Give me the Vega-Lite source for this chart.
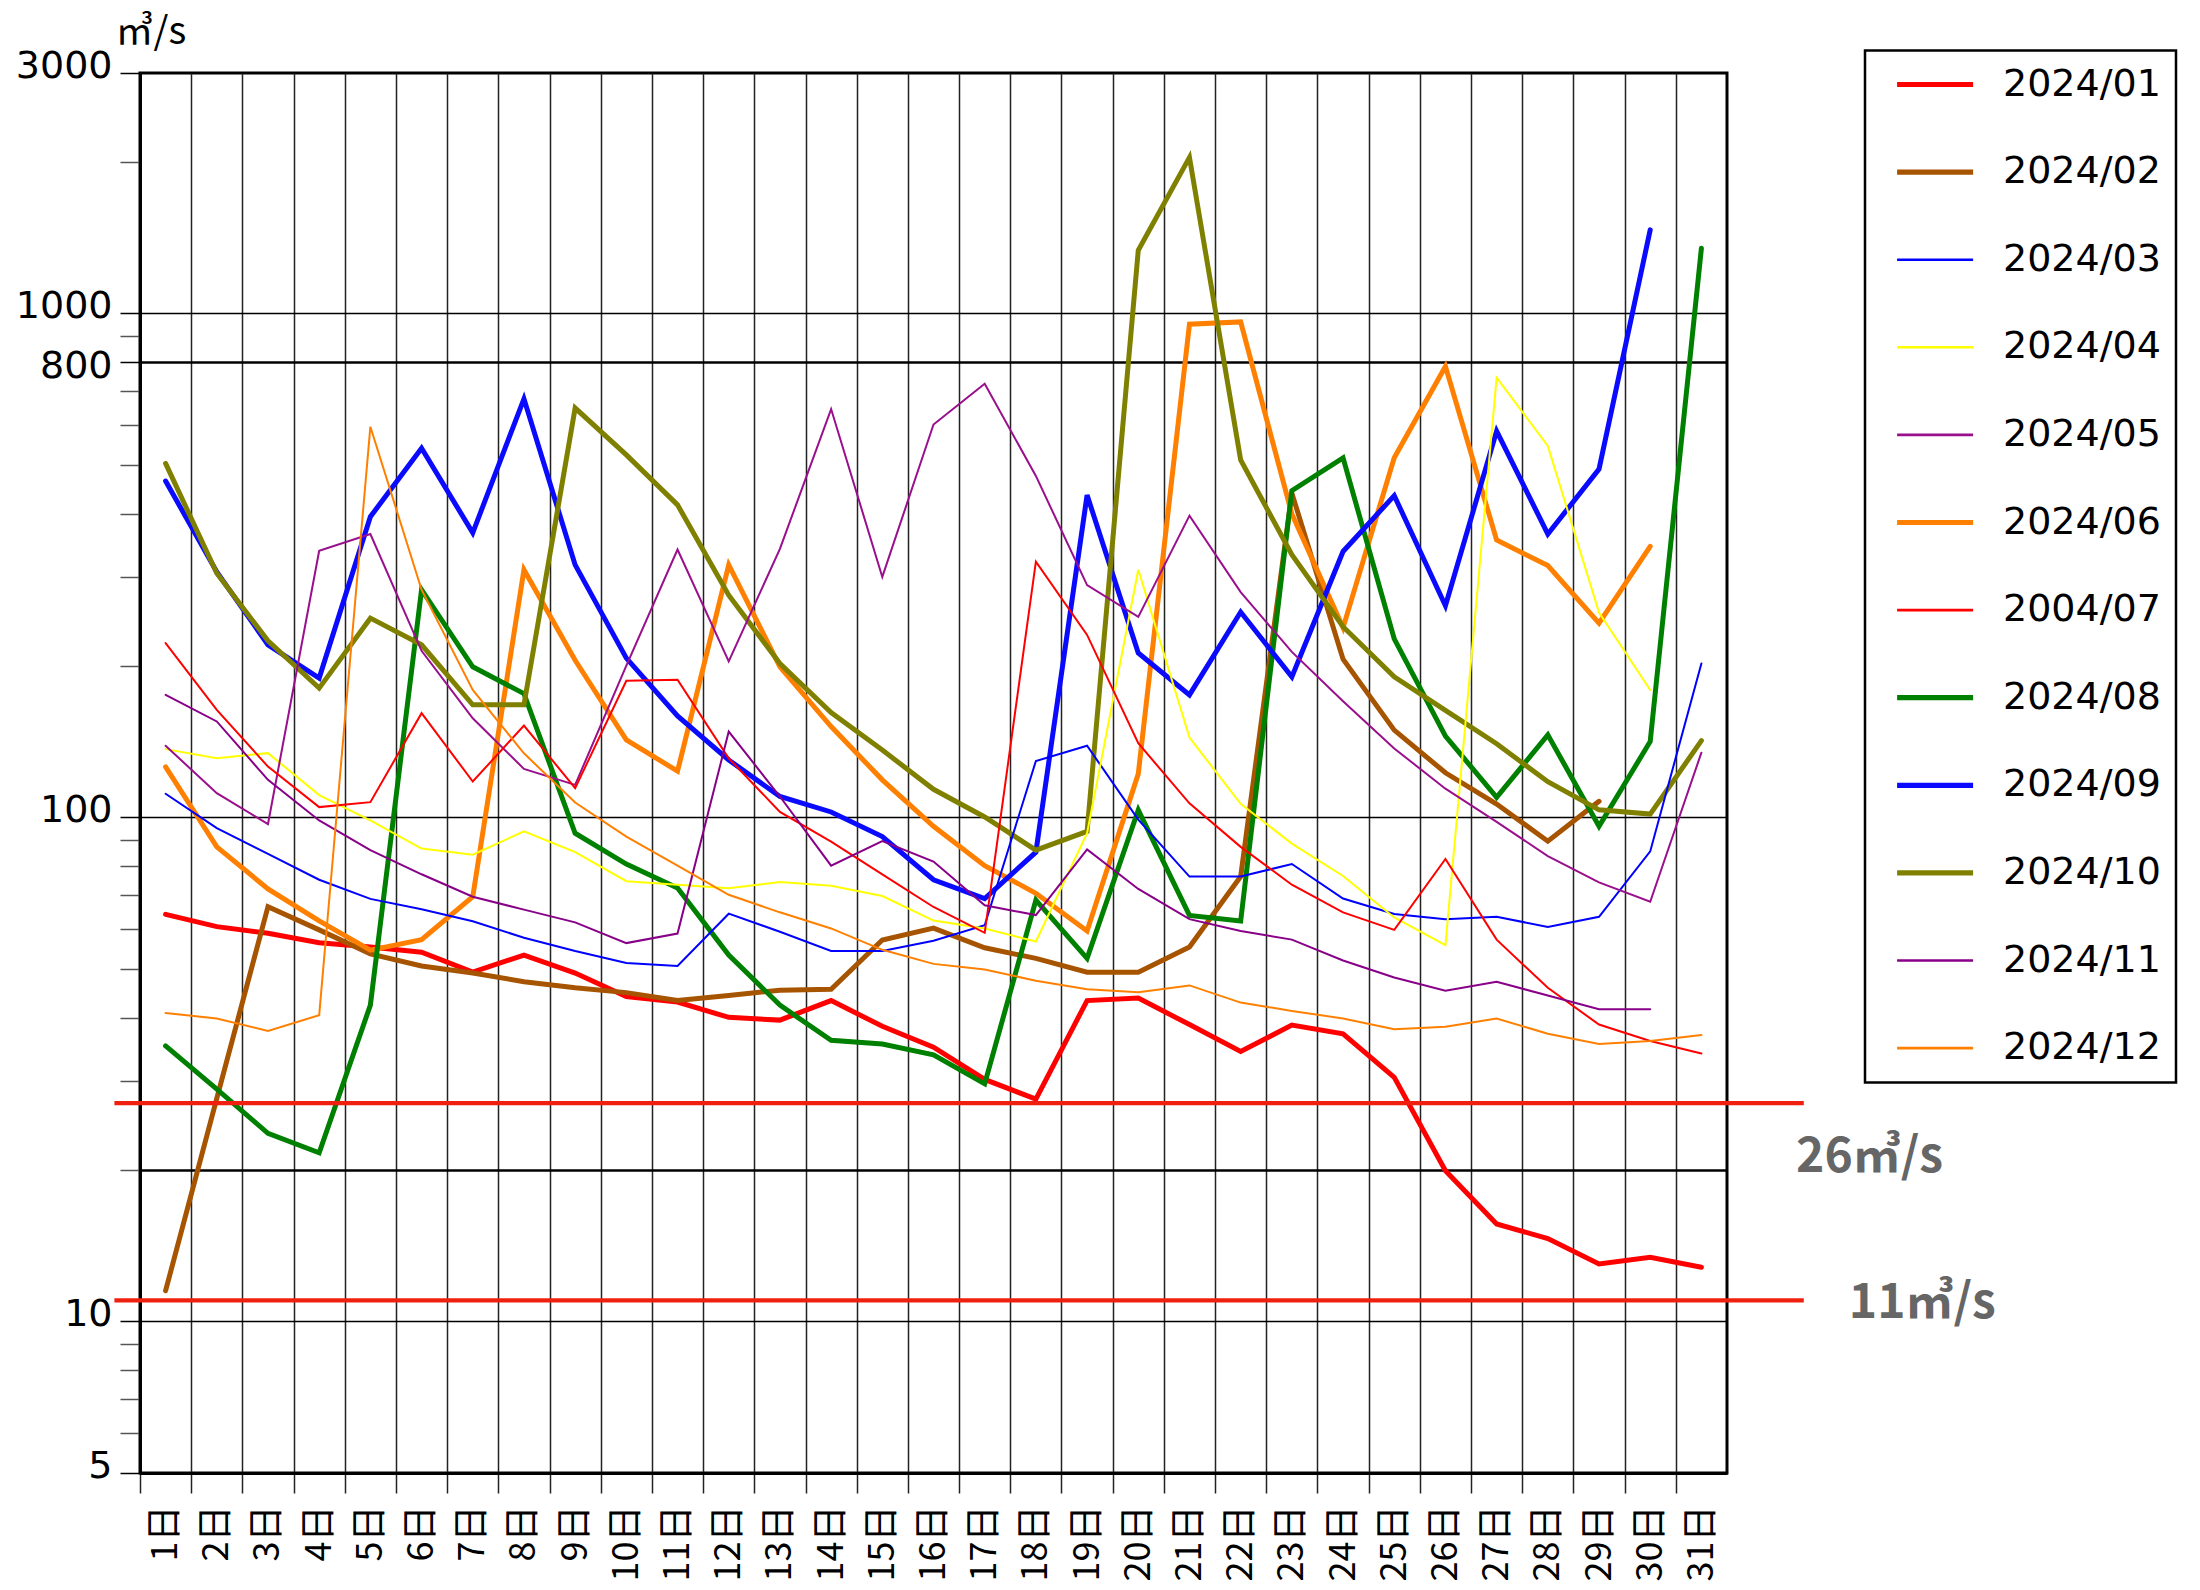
{
"$schema": "https://vega.github.io/schema/vega-lite/v6.json",
"width": 1587,
"height": 1400,
"autosize": {"type": "none"},
"padding": {"left": 140, "top": 73, "right": 473, "bottom": 117},
"background": "white",
"datasets": {
"flow": [
{"m":"2024/01","d":1,"v":64.2},{"m":"2024/01","d":2,"v":60.7},{"m":"2024/01","d":3,"v":58.9},{"m":"2024/01","d":4,"v":56.4},{"m":"2024/01","d":5,"v":55.3},{"m":"2024/01","d":6,"v":54.0},{"m":"2024/01","d":7,"v":49.3},{"m":"2024/01","d":8,"v":53.3},{"m":"2024/01","d":9,"v":49.1},{"m":"2024/01","d":10,"v":44.1},{"m":"2024/01","d":11,"v":43.0},{"m":"2024/01","d":12,"v":40.1},{"m":"2024/01","d":13,"v":39.6},{"m":"2024/01","d":14,"v":43.3},{"m":"2024/01","d":15,"v":38.5},{"m":"2024/01","d":16,"v":35.0},{"m":"2024/01","d":17,"v":30.2},{"m":"2024/01","d":18,"v":27.6},{"m":"2024/01","d":19,"v":43.3},{"m":"2024/01","d":20,"v":43.8},{"m":"2024/01","d":21,"v":38.8},{"m":"2024/01","d":22,"v":34.3},{"m":"2024/01","d":23,"v":38.7},{"m":"2024/01","d":24,"v":37.2},{"m":"2024/01","d":25,"v":30.5},{"m":"2024/01","d":26,"v":19.9},{"m":"2024/01","d":27,"v":15.6},{"m":"2024/01","d":28,"v":14.6},{"m":"2024/01","d":29,"v":13.0},{"m":"2024/01","d":30,"v":13.4},{"m":"2024/01","d":31,"v":12.8},
{"m":"2024/02","d":1,"v":11.5},{"m":"2024/02","d":2,"v":27.7},{"m":"2024/02","d":3,"v":66.5},{"m":"2024/02","d":4,"v":59.8},{"m":"2024/02","d":5,"v":53.6},{"m":"2024/02","d":6,"v":50.7},{"m":"2024/02","d":7,"v":49.1},{"m":"2024/02","d":8,"v":47.2},{"m":"2024/02","d":9,"v":45.9},{"m":"2024/02","d":10,"v":44.9},{"m":"2024/02","d":11,"v":43.3},{"m":"2024/02","d":12,"v":44.3},{"m":"2024/02","d":13,"v":45.4},{"m":"2024/02","d":14,"v":45.6},{"m":"2024/02","d":15,"v":57.1},{"m":"2024/02","d":16,"v":60.3},{"m":"2024/02","d":17,"v":55.1},{"m":"2024/02","d":18,"v":52.5},{"m":"2024/02","d":19,"v":49.3},{"m":"2024/02","d":20,"v":49.3},{"m":"2024/02","d":21,"v":55.3},{"m":"2024/02","d":22,"v":76.3},{"m":"2024/02","d":23,"v":440},{"m":"2024/02","d":24,"v":206},{"m":"2024/02","d":25,"v":149},{"m":"2024/02","d":26,"v":122.6},{"m":"2024/02","d":27,"v":106.3},{"m":"2024/02","d":28,"v":89.7},{"m":"2024/02","d":29,"v":107.6},
{"m":"2024/03","d":1,"v":111.4},{"m":"2024/03","d":2,"v":95.2},{"m":"2024/03","d":3,"v":84.6},{"m":"2024/03","d":4,"v":75.2},{"m":"2024/03","d":5,"v":68.9},{"m":"2024/03","d":6,"v":65.7},{"m":"2024/03","d":7,"v":62.2},{"m":"2024/03","d":8,"v":57.7},{"m":"2024/03","d":9,"v":54.3},{"m":"2024/03","d":10,"v":51.4},{"m":"2024/03","d":11,"v":50.7},{"m":"2024/03","d":12,"v":64.4},{"m":"2024/03","d":13,"v":59.3},{"m":"2024/03","d":14,"v":54.3},{"m":"2024/03","d":15,"v":54.3},{"m":"2024/03","d":16,"v":56.9},{"m":"2024/03","d":17,"v":61.1},{"m":"2024/03","d":18,"v":129.4},{"m":"2024/03","d":19,"v":138.7},{"m":"2024/03","d":20,"v":99},{"m":"2024/03","d":21,"v":76.3},{"m":"2024/03","d":22,"v":76.3},{"m":"2024/03","d":23,"v":80.8},{"m":"2024/03","d":24,"v":69.0},{"m":"2024/03","d":25,"v":64.3},{"m":"2024/03","d":26,"v":62.8},{"m":"2024/03","d":27,"v":63.5},{"m":"2024/03","d":28,"v":60.6},{"m":"2024/03","d":29,"v":63.5},{"m":"2024/03","d":30,"v":85.6},{"m":"2024/03","d":31,"v":202},
{"m":"2024/04","d":1,"v":136.6},{"m":"2024/04","d":2,"v":131},{"m":"2024/04","d":3,"v":134.1},{"m":"2024/04","d":4,"v":110.7},{"m":"2024/04","d":5,"v":98.6},{"m":"2024/04","d":6,"v":86.7},{"m":"2024/04","d":7,"v":84.3},{"m":"2024/04","d":8,"v":93.8},{"m":"2024/04","d":9,"v":85.3},{"m":"2024/04","d":10,"v":74.7},{"m":"2024/04","d":11,"v":73.5},{"m":"2024/04","d":12,"v":72.3},{"m":"2024/04","d":13,"v":74.4},{"m":"2024/04","d":14,"v":73.2},{"m":"2024/04","d":15,"v":69.8},{"m":"2024/04","d":16,"v":62.4},{"m":"2024/04","d":17,"v":60.2},{"m":"2024/04","d":18,"v":56.7},{"m":"2024/04","d":19,"v":93},{"m":"2024/04","d":20,"v":310},{"m":"2024/04","d":21,"v":144},{"m":"2024/04","d":22,"v":106.4},{"m":"2024/04","d":23,"v":88.7},{"m":"2024/04","d":24,"v":76.5},{"m":"2024/04","d":25,"v":63.3},{"m":"2024/04","d":26,"v":55.8},{"m":"2024/04","d":27,"v":746},{"m":"2024/04","d":28,"v":546},{"m":"2024/04","d":29,"v":255},{"m":"2024/04","d":30,"v":179},
{"m":"2024/05","d":1,"v":138.7},{"m":"2024/05","d":2,"v":111.7},{"m":"2024/05","d":3,"v":97},{"m":"2024/05","d":4,"v":338},{"m":"2024/05","d":5,"v":365},{"m":"2024/05","d":6,"v":214},{"m":"2024/05","d":7,"v":157.3},{"m":"2024/05","d":8,"v":124.8},{"m":"2024/05","d":9,"v":116},{"m":"2024/05","d":10,"v":200},{"m":"2024/05","d":11,"v":340},{"m":"2024/05","d":12,"v":204},{"m":"2024/05","d":13,"v":341},{"m":"2024/05","d":14,"v":646},{"m":"2024/05","d":15,"v":300},{"m":"2024/05","d":16,"v":602},{"m":"2024/05","d":17,"v":725},{"m":"2024/05","d":18,"v":476},{"m":"2024/05","d":19,"v":289},{"m":"2024/05","d":20,"v":250},{"m":"2024/05","d":21,"v":397},{"m":"2024/05","d":22,"v":280},{"m":"2024/05","d":23,"v":213},{"m":"2024/05","d":24,"v":170},{"m":"2024/05","d":25,"v":137},{"m":"2024/05","d":26,"v":114},{"m":"2024/05","d":27,"v":98},{"m":"2024/05","d":28,"v":83.8},{"m":"2024/05","d":29,"v":74.3},{"m":"2024/05","d":30,"v":68.0},{"m":"2024/05","d":31,"v":134.4},
{"m":"2024/06","d":1,"v":126},{"m":"2024/06","d":2,"v":87.4},{"m":"2024/06","d":3,"v":72.1},{"m":"2024/06","d":4,"v":62.3},{"m":"2024/06","d":5,"v":54.5},{"m":"2024/06","d":6,"v":57.2},{"m":"2024/06","d":7,"v":69.6},{"m":"2024/06","d":8,"v":310},{"m":"2024/06","d":9,"v":205},{"m":"2024/06","d":10,"v":142.5},{"m":"2024/06","d":11,"v":123.5},{"m":"2024/06","d":12,"v":317},{"m":"2024/06","d":13,"v":199},{"m":"2024/06","d":14,"v":151.4},{"m":"2024/06","d":15,"v":118.7},{"m":"2024/06","d":16,"v":96},{"m":"2024/06","d":17,"v":80.2},{"m":"2024/06","d":18,"v":70.7},{"m":"2024/06","d":19,"v":59.5},{"m":"2024/06","d":20,"v":122},{"m":"2024/06","d":21,"v":952},{"m":"2024/06","d":22,"v":962},{"m":"2024/06","d":23,"v":400},{"m":"2024/06","d":24,"v":238},{"m":"2024/06","d":25,"v":517},{"m":"2024/06","d":26,"v":785},{"m":"2024/06","d":27,"v":355},{"m":"2024/06","d":28,"v":316},{"m":"2024/06","d":29,"v":243},{"m":"2024/06","d":30,"v":345},
{"m":"2004/07","d":1,"v":221.7},{"m":"2004/07","d":2,"v":163.4},{"m":"2004/07","d":3,"v":126.1},{"m":"2004/07","d":4,"v":104.8},{"m":"2004/07","d":5,"v":107.2},{"m":"2004/07","d":6,"v":161},{"m":"2004/07","d":7,"v":117.8},{"m":"2004/07","d":8,"v":152.1},{"m":"2004/07","d":9,"v":114.3},{"m":"2004/07","d":10,"v":186.6},{"m":"2004/07","d":11,"v":187.5},{"m":"2004/07","d":12,"v":131},{"m":"2004/07","d":13,"v":102.5},{"m":"2004/07","d":14,"v":89.5},{"m":"2004/07","d":15,"v":77.1},{"m":"2004/07","d":16,"v":66.4},{"m":"2004/07","d":17,"v":59.0},{"m":"2004/07","d":18,"v":321.8},{"m":"2004/07","d":19,"v":230.2},{"m":"2004/07","d":20,"v":140.3},{"m":"2004/07","d":21,"v":106.6},{"m":"2004/07","d":22,"v":87.4},{"m":"2004/07","d":23,"v":73.5},{"m":"2004/07","d":24,"v":64.8},{"m":"2004/07","d":25,"v":59.8},{"m":"2004/07","d":26,"v":82.7},{"m":"2004/07","d":27,"v":57.2},{"m":"2004/07","d":28,"v":45.9},{"m":"2004/07","d":29,"v":38.8},{"m":"2004/07","d":30,"v":36.0},{"m":"2004/07","d":31,"v":34.0},
{"m":"2024/08","d":1,"v":35.2},{"m":"2024/08","d":2,"v":28.9},{"m":"2024/08","d":3,"v":23.6},{"m":"2024/08","d":4,"v":21.6},{"m":"2024/08","d":5,"v":42.4},{"m":"2024/08","d":6,"v":283},{"m":"2024/08","d":7,"v":199},{"m":"2024/08","d":8,"v":176},{"m":"2024/08","d":9,"v":93},{"m":"2024/08","d":10,"v":80.8},{"m":"2024/08","d":11,"v":72.4},{"m":"2024/08","d":12,"v":53.3},{"m":"2024/08","d":13,"v":42.4},{"m":"2024/08","d":14,"v":36.1},{"m":"2024/08","d":15,"v":35.5},{"m":"2024/08","d":16,"v":33.8},{"m":"2024/08","d":17,"v":29.6},{"m":"2024/08","d":18,"v":68.5},{"m":"2024/08","d":19,"v":52.5},{"m":"2024/08","d":20,"v":103.4},{"m":"2024/08","d":21,"v":63.9},{"m":"2024/08","d":22,"v":62.3},{"m":"2024/08","d":23,"v":445},{"m":"2024/08","d":24,"v":517},{"m":"2024/08","d":25,"v":226},{"m":"2024/08","d":26,"v":145},{"m":"2024/08","d":27,"v":109.6},{"m":"2024/08","d":28,"v":145.8},{"m":"2024/08","d":29,"v":96},{"m":"2024/08","d":30,"v":141.4},{"m":"2024/08","d":31,"v":1347},
{"m":"2024/09","d":1,"v":465},{"m":"2024/09","d":2,"v":307},{"m":"2024/09","d":3,"v":220},{"m":"2024/09","d":4,"v":189},{"m":"2024/09","d":5,"v":395},{"m":"2024/09","d":6,"v":540},{"m":"2024/09","d":7,"v":367},{"m":"2024/09","d":8,"v":677},{"m":"2024/09","d":9,"v":317},{"m":"2024/09","d":10,"v":207},{"m":"2024/09","d":11,"v":159},{"m":"2024/09","d":12,"v":130},{"m":"2024/09","d":13,"v":110},{"m":"2024/09","d":14,"v":102.5},{"m":"2024/09","d":15,"v":91.6},{"m":"2024/09","d":16,"v":75.2},{"m":"2024/09","d":17,"v":69.0},{"m":"2024/09","d":18,"v":85.3},{"m":"2024/09","d":19,"v":436},{"m":"2024/09","d":20,"v":212},{"m":"2024/09","d":21,"v":175},{"m":"2024/09","d":22,"v":255.6},{"m":"2024/09","d":23,"v":190},{"m":"2024/09","d":24,"v":337},{"m":"2024/09","d":25,"v":435},{"m":"2024/09","d":26,"v":263},{"m":"2024/09","d":27,"v":584},{"m":"2024/09","d":28,"v":365},{"m":"2024/09","d":29,"v":491},{"m":"2024/09","d":30,"v":1465},
{"m":"2024/10","d":1,"v":504},{"m":"2024/10","d":2,"v":305},{"m":"2024/10","d":3,"v":224},{"m":"2024/10","d":4,"v":180.5},{"m":"2024/10","d":5,"v":248.5},{"m":"2024/10","d":6,"v":220},{"m":"2024/10","d":7,"v":167.2},{"m":"2024/10","d":8,"v":167.2},{"m":"2024/10","d":9,"v":649},{"m":"2024/10","d":10,"v":524},{"m":"2024/10","d":11,"v":417},{"m":"2024/10","d":12,"v":276},{"m":"2024/10","d":13,"v":202},{"m":"2024/10","d":14,"v":161.4},{"m":"2024/10","d":15,"v":136},{"m":"2024/10","d":16,"v":113.7},{"m":"2024/10","d":17,"v":100.2},{"m":"2024/10","d":18,"v":86.1},{"m":"2024/10","d":19,"v":93.8},{"m":"2024/10","d":20,"v":1335},{"m":"2024/10","d":21,"v":2040},{"m":"2024/10","d":22,"v":512},{"m":"2024/10","d":23,"v":332},{"m":"2024/10","d":24,"v":239},{"m":"2024/10","d":25,"v":190},{"m":"2024/10","d":26,"v":163},{"m":"2024/10","d":27,"v":140},{"m":"2024/10","d":28,"v":117.7},{"m":"2024/10","d":29,"v":103.5},{"m":"2024/10","d":30,"v":101.5},{"m":"2024/10","d":31,"v":142},
{"m":"2024/11","d":1,"v":175},{"m":"2024/11","d":2,"v":155},{"m":"2024/11","d":3,"v":118.7},{"m":"2024/11","d":4,"v":98.6},{"m":"2024/11","d":5,"v":86.1},{"m":"2024/11","d":6,"v":77.1},{"m":"2024/11","d":7,"v":69.6},{"m":"2024/11","d":8,"v":65.6},{"m":"2024/11","d":9,"v":61.9},{"m":"2024/11","d":10,"v":56.3},{"m":"2024/11","d":11,"v":58.8},{"m":"2024/11","d":12,"v":148},{"m":"2024/11","d":13,"v":110},{"m":"2024/11","d":14,"v":80.2},{"m":"2024/11","d":15,"v":89.7},{"m":"2024/11","d":16,"v":81.7},{"m":"2024/11","d":17,"v":66.9},{"m":"2024/11","d":18,"v":64.0},{"m":"2024/11","d":19,"v":86.4},{"m":"2024/11","d":20,"v":72.1},{"m":"2024/11","d":21,"v":62.8},{"m":"2024/11","d":22,"v":59.5},{"m":"2024/11","d":23,"v":57.2},{"m":"2024/11","d":24,"v":52.0},{"m":"2024/11","d":25,"v":48.1},{"m":"2024/11","d":26,"v":45.3},{"m":"2024/11","d":27,"v":47.2},{"m":"2024/11","d":28,"v":44.3},{"m":"2024/11","d":29,"v":41.6},{"m":"2024/11","d":30,"v":41.6},
{"m":"2024/12","d":1,"v":40.9},{"m":"2024/12","d":2,"v":39.9},{"m":"2024/12","d":3,"v":37.7},{"m":"2024/12","d":4,"v":40.5},{"m":"2024/12","d":5,"v":596},{"m":"2024/12","d":6,"v":283},{"m":"2024/12","d":7,"v":179},{"m":"2024/12","d":8,"v":134},{"m":"2024/12","d":9,"v":107},{"m":"2024/12","d":10,"v":91.6},{"m":"2024/12","d":11,"v":80.2},{"m":"2024/12","d":12,"v":70.2},{"m":"2024/12","d":13,"v":64.8},{"m":"2024/12","d":14,"v":60.2},{"m":"2024/12","d":15,"v":54.6},{"m":"2024/12","d":16,"v":51.2},{"m":"2024/12","d":17,"v":49.9},{"m":"2024/12","d":18,"v":47.4},{"m":"2024/12","d":19,"v":45.6},{"m":"2024/12","d":20,"v":45.0},{"m":"2024/12","d":21,"v":46.4},{"m":"2024/12","d":22,"v":42.9},{"m":"2024/12","d":23,"v":41.3},{"m":"2024/12","d":24,"v":39.9},{"m":"2024/12","d":25,"v":38.0},{"m":"2024/12","d":26,"v":38.4},{"m":"2024/12","d":27,"v":39.9},{"m":"2024/12","d":28,"v":37.2},{"m":"2024/12","d":29,"v":35.5},{"m":"2024/12","d":30,"v":36.0},{"m":"2024/12","d":31,"v":37.0}
],
"refs": [{"v": 27.1, "label": "26㎥/s"}, {"v": 11, "label": "11㎥/s"}]
},
"layer": [
{
"data": {"name": "flow"},
"transform": [{"filter": "indexof(['2024/01','2024/02','2024/06','2024/08','2024/09','2024/10'], datum.m) >= 0"}],
"mark": {"type": "line", "strokeWidth": 5, "strokeCap": "round", "strokeJoin": "miter"},
"encoding": {
"x": {"field": "d", "type": "quantitative", "title": null,
"scale": {"domain": [0.5, 31.5], "nice": false, "zero": false},
"axis": {
"values": [1,2,3,4,5,6,7,8,9,10,11,12,13,14,15,16,17,18,19,20,21,22,23,24,25,26,27,28,29,30,31],
"labelExpr": "datum.value + '日'",
"tickOffset": -25.6, "labelOffset": 25.6,
"grid": true, "gridColor": "#222222", "gridWidth": 1.5,
"ticks": true, "tickSize": 20, "tickColor": "#222222", "tickWidth": 1.5,
"labelAngle": 270,
"labelFont": "Noto Sans CJK JP", "labelFontSize": 36, "labelColor": "black",
"labelPadding": 12, "labelOverlap": false, "labelBound": false, "labelFlush": false,
"domainColor": "black", "domainWidth": 3
}},
"y": {"field": "v", "type": "quantitative", "title": "㎥/s",
"scale": {"type": "log", "domain": [5, 3000], "nice": false},
"axis": {
"values": [5,6,7,8,9,10,20,30,40,50,60,70,80,90,100,200,300,400,500,600,700,800,900,1000,2000,3000],
"labelExpr": "indexof([3000,1000,800,100,10,5], datum.value) >= 0 ? datum.value + '' : ''",
"grid": true, "gridColor": "black",
"gridOpacity": {"condition": {"test": "indexof([10,20,100,800,1000], datum.value) >= 0", "value": 1}, "value": 0},
"gridWidth": {"condition": {"test": "datum.value == 800 || datum.value == 20", "value": 2.5}, "value": 1.3},
"tickSize": 20, "tickWidth": 1.5,
"tickColor": {"condition": {"test": "indexof([3000,1000,800,100,10,5], datum.value) >= 0", "value": "black"}, "value": "#555555"},
"labelFont": "DejaVu Sans", "labelFontSize": 38, "labelColor": "black", "labelPadding": 8,
"labelBaseline": {"condition": {"test": "datum.value == 800", "value": "middle"}, "value": "alphabetic"},
"labelOffset": 4,
"labelOverlap": false, "labelBound": false, "labelFlush": false,
"domainColor": "black", "domainWidth": 3,
"titleAngle": 0, "titleAlign": "left", "titleBaseline": "alphabetic", "titleX": -25, "titleY": -30,
"titleFont": "Noto Sans CJK JP", "titleFontSize": 38, "titleFontWeight": "normal", "titleColor": "black"
}},
"color": {"field": "m", "type": "nominal", "title": null,
"scale": {"domain": ["2024/01","2024/02","2024/03","2024/04","2024/05","2024/06","2004/07","2024/08","2024/09","2024/10","2024/11","2024/12"],
"range": ["#ff0000","#a65400","#0000ff","#ffff00","#990f8c","#ff8000","#ff0000","#008000","#0a0aff","#808000","#880088","#ff8000"]},
"legend": {"orient": "none", "legendX": 1725, "legendY": -22.5, "padding": 15, "strokeColor": "black", "fillColor": "white",
"symbolType": "M-0.1,0H3.9", "symbolSize": 1444, "labelFont": "DejaVu Sans", "labelFontSize": 38, "labelColor": "black",
"labelOffset": 85, "labelLimit": 400, "rowPadding": 49.6,
"encode": {"symbols": {"update": {"strokeWidth": {"signal": "indexof(['2024/03','2024/04','2024/05','2004/07','2024/11','2024/12'], datum.value) >= 0 ? 2.6 : 5.2"}}}}}}
}
},
{
"data": {"name": "flow"},
"transform": [{"filter": "indexof(['2024/01','2024/02','2024/06','2024/08','2024/09','2024/10'], datum.m) < 0"}],
"mark": {"type": "line", "strokeWidth": 2, "strokeCap": "round", "strokeJoin": "miter"},
"encoding": {
"x": {"field": "d", "type": "quantitative", "title": null},
"y": {"field": "v", "type": "quantitative", "title": "㎥/s"},
"color": {"field": "m", "type": "nominal", "title": null}
}
},
{
"data": {"name": "refs"},
"mark": {"type": "rule", "color": "#f02010", "strokeWidth": 4.2},
"encoding": {
"y": {"field": "v", "type": "quantitative", "title": "㎥/s"},
"x": {"datum": 0, "type": "quantitative", "title": null},
"x2": {"datum": 33}
}
},
{
"data": {"name": "refs"},
"transform": [{"filter": "datum.v > 20"}],
"mark": {"type": "text", "align": "left", "baseline": "middle", "font": "Noto Sans CJK JP", "fontSize": 48, "fontWeight": "bold", "color": "#666666"},
"encoding": {
"x": {"datum": 32.85, "type": "quantitative", "title": null},
"y": {"datum": 21.1, "type": "quantitative", "title": "㎥/s"},
"text": {"field": "label"}
}
},
{
"data": {"name": "refs"},
"transform": [{"filter": "datum.v < 20"}],
"mark": {"type": "text", "align": "left", "baseline": "middle", "font": "Noto Sans CJK JP", "fontSize": 48, "fontWeight": "bold", "color": "#666666"},
"encoding": {
"x": {"datum": 33.88, "type": "quantitative", "title": null},
"y": {"datum": 10.8, "type": "quantitative", "title": "㎥/s"},
"text": {"field": "label"}
}
}
],
"config": {
"view": {"stroke": "black", "strokeWidth": 3},
"legend": {"strokeWidth": 2.5}
}
}
